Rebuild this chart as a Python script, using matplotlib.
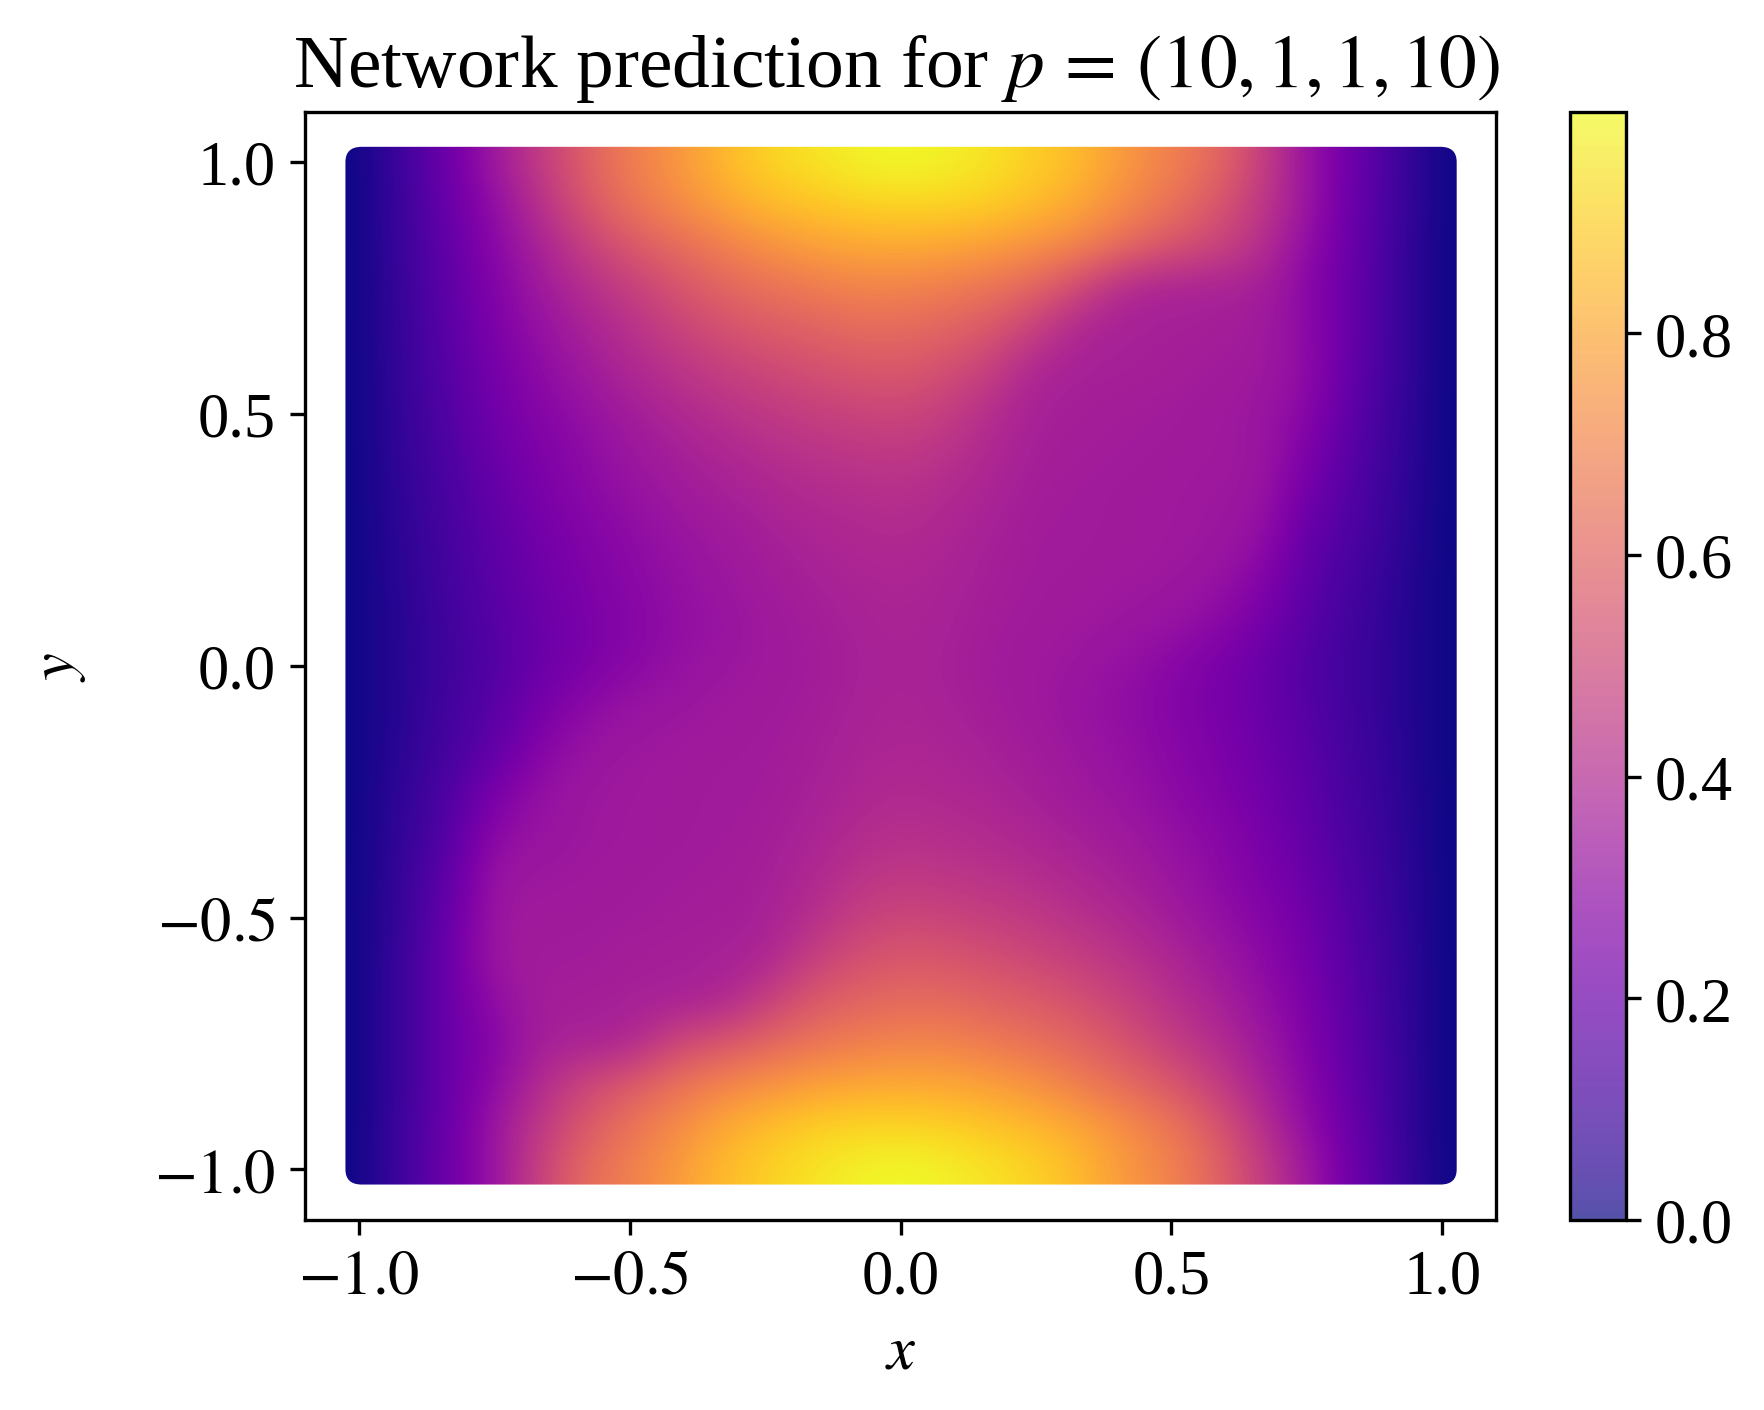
import matplotlib
matplotlib.use("Agg")
import matplotlib.pyplot as plt
import numpy as np
from matplotlib.cm import ScalarMappable
from matplotlib.colors import Normalize
from matplotlib.patches import FancyBboxPatch

plt.rcParams["font.family"] = ["Liberation Serif", "DejaVu Serif"]
plt.rcParams["mathtext.fontset"] = "stix"
plt.rcParams["font.size"] = 15

# values, first row is y = 1, columns run x = -1 .. 1 in twelfths
grid_x = [-12/12, -11/12, -10/12, -9/12, -8/12, -7/12, -6/12, -5/12, -4/12, -3/12, -2/12, -1/12, 0,
          1/12, 2/12, 3/12, 4/12, 5/12, 6/12, 7/12, 8/12, 9/12, 10/12, 11/12, 12/12]
grid_y = grid_x[::-1]
field = [
    [0, .10, .21, .34, .46, .58, .68, .75, .84, .91, .95, .98, 1.0, .98, .95, .90, .85, .76, .69, .62, .48, .32, .21, .10, 0],
    [0, .09, .20, .30, .42, .55, .65, .72, .79, .85, .88, .91, .92, .92, .90, .86, .80, .72, .65, .56, .45, .33, .20, .10, 0],
    [0, .09, .18, .28, .37, .47, .56, .62, .68, .74, .78, .80, .81, .80, .78, .74, .70, .62, .55, .50, .42, .30, .20, .09, 0],
    [0, .085, .17, .26, .34, .41, .47, .54, .60, .64, .67, .70, .70, .68, .65, .60, .50, .39, .37, .37, .36, .28, .19, .09, 0],
    [0, .08, .16, .25, .31, .37, .42, .48, .53, .57, .59, .62, .62, .60, .56, .47, .38, .365, .365, .36, .35, .29, .19, .09, 0],
    [0, .08, .15, .23, .29, .34, .39, .43, .47, .50, .53, .55, .56, .53, .47, .38, .365, .365, .36, .35, .34, .30, .18, .09, 0],
    [0, .075, .14, .22, .27, .31, .35, .39, .42, .45, .47, .49, .50, .47, .41, .365, .36, .355, .35, .34, .33, .28, .17, .08, 0],
    [0, .07, .13, .20, .25, .29, .33, .36, .385, .41, .43, .44, .45, .43, .39, .36, .355, .35, .345, .34, .335, .25, .15, .08, 0],
    [0, .065, .12, .18, .24, .28, .31, .34, .36, .38, .40, .41, .42, .40, .375, .355, .35, .345, .34, .335, .33, .22, .14, .07, 0],
    [0, .06, .11, .17, .22, .26, .29, .32, .34, .36, .38, .39, .40, .385, .365, .35, .35, .345, .34, .335, .31, .18, .13, .065, 0],
    [0, .055, .105, .16, .21, .25, .28, .31, .33, .35, .365, .38, .385, .375, .36, .35, .345, .34, .335, .32, .27, .17, .11, .055, 0],
    [0, .05, .10, .15, .20, .24, .27, .30, .32, .34, .355, .37, .38, .37, .355, .345, .34, .33, .32, .29, .23, .155, .105, .05, 0],
    [0, .05, .095, .14, .20, .24, .28, .31, .33, .34, .35, .365, .375, .365, .35, .34, .33, .31, .28, .24, .20, .14, .095, .05, 0],
    [0, .05, .105, .155, .23, .29, .32, .33, .34, .345, .355, .37, .38, .37, .355, .34, .32, .30, .27, .24, .20, .15, .10, .05, 0],
    [0, .055, .11, .17, .27, .32, .335, .34, .345, .35, .36, .375, .385, .38, .365, .35, .33, .31, .28, .25, .21, .16, .105, .055, 0],
    [0, .065, .13, .24, .31, .335, .34, .345, .35, .35, .365, .385, .40, .39, .38, .36, .34, .32, .29, .26, .22, .17, .11, .06, 0],
    [0, .07, .14, .29, .32, .335, .34, .345, .35, .355, .375, .40, .42, .41, .40, .38, .36, .34, .31, .28, .24, .18, .12, .065, 0],
    [0, .08, .17, .33, .335, .34, .345, .35, .355, .36, .39, .43, .45, .44, .43, .41, .385, .36, .33, .29, .25, .20, .13, .07, 0],
    [0, .08, .19, .335, .345, .345, .35, .355, .36, .365, .41, .47, .50, .49, .47, .45, .42, .39, .35, .31, .27, .22, .14, .075, 0],
    [0, .09, .20, .34, .35, .35, .36, .365, .365, .38, .47, .53, .56, .55, .53, .50, .47, .43, .39, .34, .29, .23, .15, .08, 0],
    [0, .09, .20, .30, .36, .36, .365, .365, .38, .47, .56, .60, .62, .62, .59, .57, .53, .48, .42, .37, .31, .25, .16, .08, 0],
    [0, .09, .20, .27, .36, .37, .38, .50, .55, .60, .65, .68, .70, .70, .67, .64, .60, .54, .47, .41, .34, .26, .17, .085, 0],
    [0, .09, .20, .29, .40, .50, .57, .64, .70, .74, .78, .80, .81, .80, .78, .74, .68, .62, .56, .47, .37, .28, .18, .09, 0],
    [0, .10, .20, .33, .45, .56, .65, .72, .80, .86, .90, .92, .92, .91, .88, .85, .80, .73, .66, .56, .42, .30, .20, .09, 0],
    [0, .10, .21, .32, .48, .62, .69, .76, .85, .90, .95, .98, 1.0, .98, .95, .91, .85, .76, .70, .60, .47, .34, .21, .10, 0],
]
ticks_main = [-1.0, -0.5, 0.0, 0.5, 1.0]
ticklabels_main = [r"$\mathrm{-1.0}$", r"$\mathrm{-0.5}$", "0.0", "0.5", "1.0"]
ticks_cbar = [0.0, 0.2, 0.4, 0.6, 0.8]

fig = plt.figure(figsize=(5.88, 4.703), dpi=300)
ax = fig.add_axes([0.1728, 0.1348, 0.6754, 0.7855])
cax = fig.add_axes([0.8903, 0.1348, 0.0313, 0.7855])

step = abs(grid_x[1] - grid_x[0]) / 2
norm = Normalize(vmin=0, vmax=1)
im = ax.imshow(np.array(field), cmap="plasma", norm=norm, aspect="auto",
               interpolation="bicubic",
               extent=[grid_x[0] - step, grid_x[-1] + step, grid_y[-1] - step, grid_y[0] + step])

# the field was scattered with fat markers, so its corners come out round
outline = FancyBboxPatch((-0.995, -1.0), 1.992, 2.0,
                         boxstyle="round,pad=0.03,rounding_size=0.03",
                         transform=ax.transData, facecolor="none", edgecolor="none")
ax.add_patch(outline)
im.set_clip_path(outline)

ax.set_xlim(-1.1, 1.1)
ax.set_ylim(-1.1, 1.1)
ax.set_xticks(ticks_main, ticklabels_main)
ax.set_yticks(ticks_main, ticklabels_main)
ax.set_xlabel(r"$x$")
ax.set_ylabel(r"$y$", labelpad=16)
ax.set_title(r"Network prediction for $p\,=\,\left(10, 1, 1, 10\right)$", fontsize=18.1, pad=6, x=0.497)

cbar = fig.colorbar(ScalarMappable(norm=norm, cmap="plasma"), cax=cax, alpha=0.7)
cbar.set_ticks(ticks_cbar)

plt.savefig("out.png", dpi=300)
